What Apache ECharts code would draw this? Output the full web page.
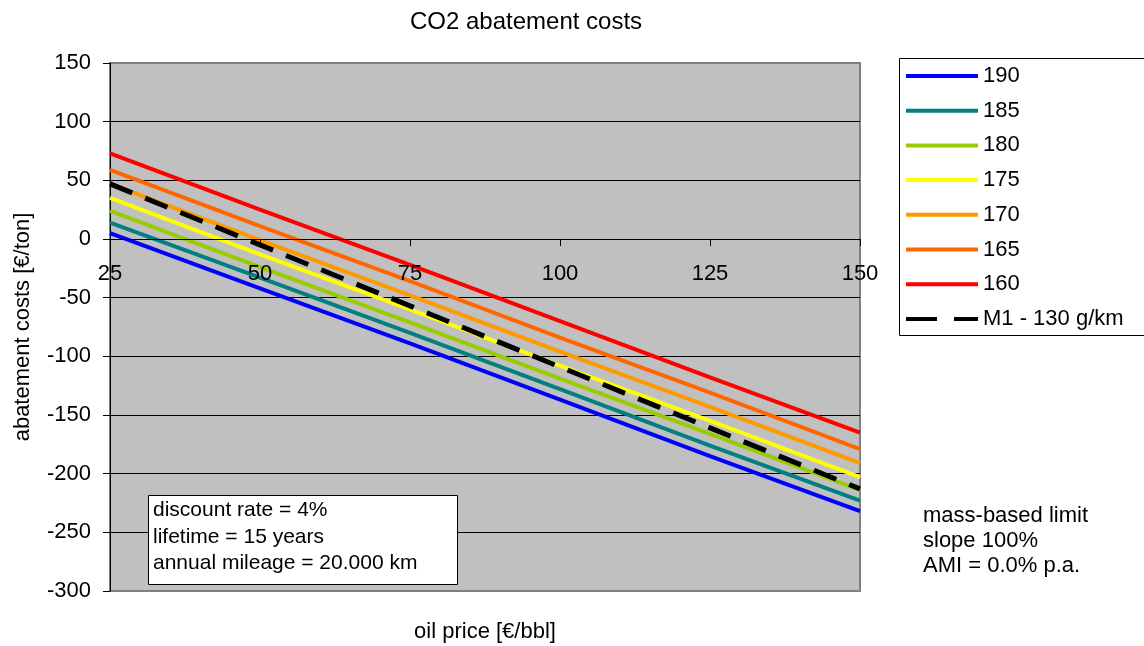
<!DOCTYPE html>
<html>
<head>
<meta charset="utf-8">
<title>CO2 abatement costs</title>
<script src="https://cdn.jsdelivr.net/npm/echarts@6/dist/echarts.min.js"></script>
<style>
  html, body { margin: 0; padding: 0; background: #fff; }
  #chart { width: 1144px; height: 646px; }
</style>
</head>
<body>
<div id="chart"></div>
<script>
// oil price [€/bbl]
const oilPrices = [25, 50, 75, 100, 125, 150]
const yTicks = [-300, -250, -200, -150, -100, -50, 0, 50, 100, 150]

// abatement costs [€/ton], one list per limit (g/km)
const cost190 = [5, -42, -89, -137, -185, -232]
const cost185 = [14, -33, -80, -128, -176, -223]
const cost180 = [24, -24, -71, -119, -166, -214]
const cost175 = [35, -13, -60, -108, -155, -203]
const cost170 = [47, -1, -48, -96, -143, -191]
const cost165 = [59, 11, -36, -84, -131, -179]
const cost160 = [73, 25, -22, -70, -118, -165]
const costM1 = [47, -5, -57, -109, -161, -213]

const seriesNames = ['190', '185', '180', '175', '170', '165', '160', 'M1 - 130 g/km']
const seriesValues = [cost190, cost185, cost180, cost175, cost170, cost165, cost160, costM1]
const seriesColors = ['#0000FF', '#008080', '#99CC00', '#FFFF00', '#FF9900', '#FF6600', '#FF0000', '#000000']

const infoLines = ['discount rate = 4%', 'lifetime = 15 years', 'annual mileage = 20.000 km']
const noteLines = ['mass-based limit', 'slope 100%', 'AMI = 0.0% p.a.']

const font = 'Arial, "Liberation Sans", sans-serif'

// legend icons: a plain bar, or a dashed one for M1
const solidIcon = 'path://M0,0H72V4H0Z'
const dashIcon = 'path://M0,0H31V4H0Z M48,0H72V4H48Z'

const mychart = echarts.init(document.getElementById('chart'))

const series = seriesNames.map((name, i) => ({
    name: name,
    type: 'line',
    symbol: 'none',
    data: oilPrices.map((x, j) => [x, seriesValues[i][j]]),
    lineStyle: {
        color: seriesColors[i],
        width: i === 7 ? 5 : 4,
        type: i === 7 ? [24, 14] : 'solid'
    },
    itemStyle: { color: seriesColors[i] },
    z: 2 + i
}))

mychart.setOption({
    animation: false,
    backgroundColor: '#ffffff',
    title: {
        text: 'CO2 abatement costs',
        left: 405,
        top: 5,
        textStyle: { color: '#000', fontSize: 24, fontWeight: 'normal', fontFamily: font }
    },
    grid: {
        left: 110,
        right: 284,
        top: 63,
        bottom: 55,
        show: true,
        backgroundColor: '#C0C0C0',
        borderColor: '#808080',
        borderWidth: 2,
        containLabel: false
    },
    legend: {
        orient: 'vertical',
        left: 906,
        top: 65,
        padding: 0,
        itemWidth: 72,
        itemHeight: 4,
        itemGap: 12.7,
        symbolKeepAspect: false,
        textStyle: { color: '#000', fontSize: 22, lineHeight: 22, height: 22, fontFamily: font },
        data: seriesNames.map((n, i) => ({ name: n, icon: i === 7 ? dashIcon : solidIcon })),
        selectedMode: false,
        z: 10
    },
    xAxis: {
        type: 'value',
        min: 25,
        max: 150,
        interval: 25,
        offset: -352,
        z: 20,
        axisLine: { onZero: false, lineStyle: { color: '#000', width: 1 } },
        axisTick: { show: true, inside: false, length: 7, lineStyle: { color: '#000' } },
        axisLabel: { color: '#000', fontSize: 22, fontFamily: font, margin: 24 },
        splitLine: { show: false }
    },
    yAxis: {
        type: 'value',
        min: -300,
        max: 150,
        interval: 50,
        name: 'abatement costs [€/ton]',
        nameLocation: 'middle',
        nameGap: 76,
        nameTextStyle: { color: '#000', fontSize: 22, fontFamily: font },
        axisLine: { show: true, lineStyle: { color: '#000', width: 1 } },
        axisTick: { show: true, length: 7, lineStyle: { color: '#000' } },
        axisLabel: {
            color: '#000', fontSize: 22, fontFamily: font, margin: 19,
            formatter: v => yTicks.includes(v) ? String(v) : ''
        },
        splitLine: { show: true, showMinLine: false, showMaxLine: false, lineStyle: { color: '#000', width: 1 } }
    },
    graphic: [
        {
            type: 'rect',
            z: 0,
            shape: { x: 899.5, y: 58.5, width: 260, height: 277 },
            style: { fill: '#fff', stroke: '#000', lineWidth: 1 }
        },
        {
            type: 'rect',
            z: 20,
            shape: { x: 148.5, y: 495.5, width: 309, height: 89 },
            style: { fill: '#fff', stroke: '#000', lineWidth: 1 }
        },
        {
            type: 'text',
            z: 21,
            x: 153,
            y: 497,
            style: {
                text: infoLines.join('\n'),
                font: '21px ' + font,
                fill: '#000',
                lineHeight: 26.5,
                verticalAlign: 'top'
            }
        },
        {
            type: 'text',
            z: 21,
            x: 923,
            y: 503.5,
            style: {
                text: noteLines.join('\n'),
                font: '22px ' + font,
                fill: '#000',
                lineHeight: 25,
                verticalAlign: 'top'
            }
        },
        {
            type: 'text',
            z: 21,
            x: 485,
            y: 632,
            style: {
                text: 'oil price [€/bbl]',
                font: '22px ' + font,
                fill: '#000',
                align: 'center',
                verticalAlign: 'middle'
            }
        }
    ],
    series: series
})
</script>
</body>
</html>
